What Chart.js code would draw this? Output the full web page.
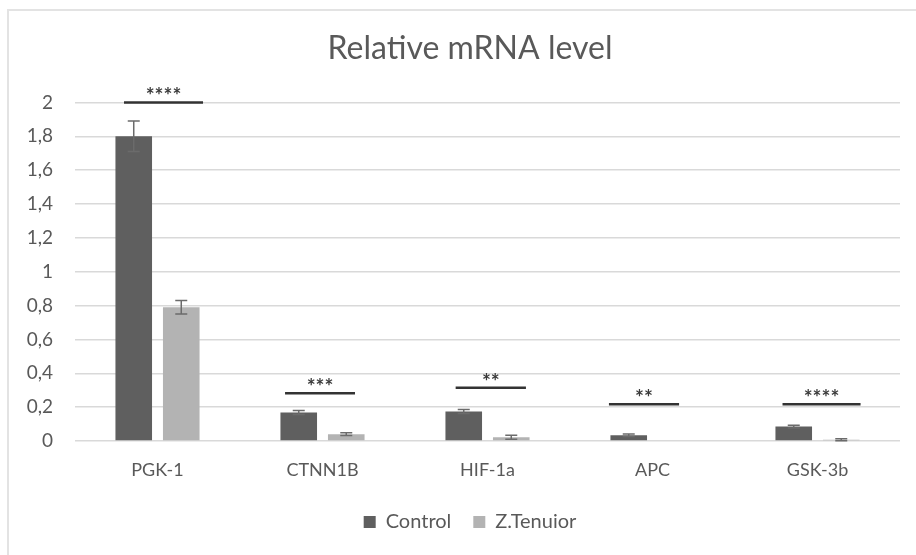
<!DOCTYPE html>
<html>
<head>
<meta charset="utf-8">
<script src="https://cdn.jsdelivr.net/npm/chart.js@4/dist/chart.umd.min.js"></script>
<style>
  html, body { margin: 0; padding: 0; background: #fff; }
  #wrap { position: relative; width: 916px; height: 555px; }
  #frame { position: absolute; left: 7px; top: 9px; right: 0; bottom: 0;
           border-left: 2px solid #e3e3e3; border-top: 2px solid #e3e3e3; pointer-events: none; }
  canvas { position: absolute; left: 0; top: 0; }
</style>
</head>
<body>
<div id="wrap">
  <canvas id="chart" width="916" height="555"></canvas>
  <div id="frame"></div>
</div>
<script>
// Data
const categories = ['PGK-1', 'CTNN1B', 'HIF-1a', 'APC', 'GSK-3b'];
const controlValues = [1.80, 0.168, 0.174, 0.034, 0.085];
const controlErrors = [0.09, 0.012, 0.012, 0.008, 0.008];
const tenuiorValues = [0.79, 0.04, 0.022, 0, 0.008];
const tenuiorErrors = [0.04, 0.008, 0.012, 0, 0.006];
const yTickLabels = ['0', '0,2', '0,4', '0,6', '0,8', '1', '1,2', '1,4', '1,6', '1,8', '2'];

// significance marks: stars, line height (y value), line span (in category units around each group)
const sigStars = ['****', '***', '**', '**', '****'];
const sigLevel = [2.0, 0.282, 0.315, 0.217, 0.217];
const sigFrom = [-0.203, -0.227, -0.193, -0.264, -0.212];
const sigTo = [0.276, 0.197, 0.233, 0.161, 0.261];

const textColor = '#595959';
const fontFamily = 'Lato, "Open Sans", sans-serif';

// Error bars + significance lines
const annotations = {
  id: 'annotations',
  afterDatasetsDraw(chart) {
    const ctx = chart.ctx;
    const y = chart.scales.y;
    const x = chart.scales.x;
    const errs = [controlErrors, tenuiorErrors];
    ctx.save();
    chart.data.datasets.forEach((ds, di) => {
      const meta = chart.getDatasetMeta(di);
      meta.data.forEach((bar, i) => {
        const e = errs[di][i];
        if (!e) return;
        const v = ds.data[i];
        const top = y.getPixelForValue(v + e);
        const bot = y.getPixelForValue(v - e);
        ctx.strokeStyle = '#6b6b6b';
        ctx.lineWidth = 1.5;
        ctx.beginPath();
        ctx.moveTo(bar.x, top); ctx.lineTo(bar.x, bot);
        ctx.moveTo(bar.x - 6, top); ctx.lineTo(bar.x + 6, top);
        ctx.moveTo(bar.x - 6, bot); ctx.lineTo(bar.x + 6, bot);
        ctx.stroke();
      });
    });

    sigStars.forEach((s, i) => {
      const x1 = x.getPixelForValue(i + sigFrom[i]);
      const x2 = x.getPixelForValue(i + sigTo[i]);
      const ly = y.getPixelForValue(sigLevel[i]);
      ctx.strokeStyle = '#333';
      ctx.lineWidth = 2.5;
      ctx.beginPath();
      ctx.moveTo(x1, ly); ctx.lineTo(x2, ly);
      ctx.stroke();
      ctx.fillStyle = '#3a3a3a';
      ctx.font = 'bold 21px ' + fontFamily;
      ctx.textAlign = 'center';
      ctx.textBaseline = 'alphabetic';
      ctx.fillText(s, (x1 + x2) / 2, ly + 1);
    });
    ctx.restore();
  }
};

new Chart(document.getElementById('chart').getContext('2d'), {
  type: 'bar',
  data: {
    labels: categories,
    datasets: [
      {
        label: 'Control',
        data: controlValues,
        backgroundColor: '#5f5f5f',
        categoryPercentage: 0.576,
        barPercentage: 0.77
      },
      {
        label: 'Z.Tenuior',
        data: tenuiorValues,
        backgroundColor: '#b3b3b3',
        categoryPercentage: 0.576,
        barPercentage: 0.77
      }
    ]
  },
  options: {
    responsive: false,
    animation: false,
    layout: { padding: { left: 24, right: 0, top: 0, bottom: 13 } },
    plugins: {
      title: {
        display: true,
        text: 'Relative mRNA level',
        color: textColor,
        font: { family: fontFamily, size: 32, weight: 'normal' },
        padding: { top: 29, bottom: 35 }
      },
      legend: {
        position: 'bottom',
        labels: {
          color: textColor,
          font: { family: fontFamily, size: 20 },
          boxWidth: 12,
          boxHeight: 12,
          padding: 22
        }
      },
      tooltip: { enabled: false }
    },
    scales: {
      x: {
        grid: { display: false, drawTicks: false },
        border: { display: false },
        ticks: { color: textColor, font: { family: fontFamily, size: 18 }, padding: 18 },
        afterFit(scale) { scale.height = 49; }
      },
      y: {
        min: 0,
        max: 2,
        grid: { color: '#d9d9d9', lineWidth: 1.5, drawTicks: false },
        border: { display: false },
        ticks: {
          stepSize: 0.2,
          color: textColor,
          font: { family: fontFamily, size: 19 },
          padding: 22,
          callback: (v, i) => yTickLabels[i]
        },
        afterFit(scale) { scale.width = 51; }
      },
      // empty spacer on the right so the plot ends before the frame edge
      spacer: {
        type: 'linear',
        position: 'right',
        grid: { display: false, drawTicks: false },
        border: { display: false },
        ticks: { display: false },
        afterFit(scale) { scale.width = 16; }
      }
    }
  },
  plugins: [annotations]
});
</script>
</body>
</html>
